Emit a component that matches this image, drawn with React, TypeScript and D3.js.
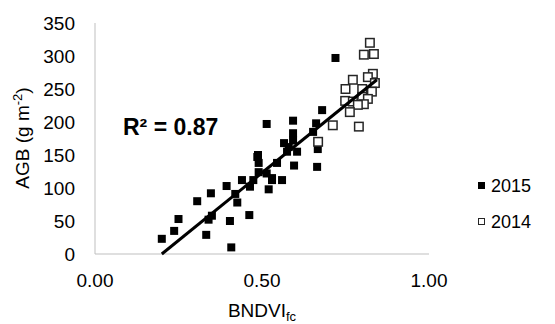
import React from 'react';
import * as d3 from 'd3';

// 2015 field data (filled squares)
const x2015 = [0.20, 0.237, 0.25, 0.306, 0.333, 0.34, 0.35, 0.347, 0.394, 0.404, 0.408, 0.426, 0.42, 0.462, 0.44, 0.464, 0.474, 0.486, 0.49, 0.49, 0.514, 0.52, 0.514, 0.53, 0.545, 0.72, 0.68, 0.593, 0.662, 0.653, 0.593, 0.593, 0.566, 0.58, 0.605, 0.575, 0.667, 0.665, 0.596, 0.488, 0.53, 0.56];
const y2015 = [23, 35, 53, 80, 29, 52, 58, 92, 103, 50, 10, 78, 91, 59, 112, 102, 112, 147, 138, 124, 197, 98, 122, 112, 138, 297, 218, 202, 198, 185, 183, 172, 168, 162, 155, 155, 159, 132, 134, 150, 115, 112];

// 2014 field data (open squares)
const x2014 = [0.823, 0.805, 0.835, 0.832, 0.817, 0.838, 0.772, 0.75, 0.80, 0.829, 0.80, 0.817, 0.749, 0.772, 0.805, 0.787, 0.763, 0.712, 0.79, 0.668];
const y2014 = [320, 302, 303, 273, 268, 259, 264, 250, 250, 246, 238, 235, 232, 231, 227, 226, 215, 195, 193, 170];

const xTicks = [0, 0.5, 1];
const yTicks = [0, 50, 100, 150, 200, 250, 300, 350];

// trend line ends
const fitX = [0.2, 0.844];
const fitSlope = 410;
const fitIntercept = -82;

const font = "'Liberation Sans', Arial, sans-serif";

export default function App() {
  const width = 555;
  const height = 324;
  const x = d3.scaleLinear().domain([0, 1]).range([95, 429]);
  const y = d3.scaleLinear().domain([0, 350]).range([254, 23]);
  const s = 8;
  const so = 8.5;

  const line = d3.line<number>()
    .x(d => x(d))
    .y(d => y(fitSlope * d + fitIntercept));

  return (
    <svg width={width} height={height} style={{ position: 'absolute', left: 0, top: 0 }}
      fontFamily={font}>
      <rect width={width} height={height} fill="#fff" />
      {/* axes */}
      <line x1={x(0)} x2={x(0)} y1={y(350)} y2={y(0)} stroke="#bfbfbf" />
      <line x1={x(0)} x2={x(1)} y1={y(0)} y2={y(0)} stroke="#bfbfbf" />
      {yTicks.map(t => (
        <text key={t} x={75} y={y(t)} dy="0.35em" textAnchor="end" fontSize={19} fill="#000">{t}</text>
      ))}
      {xTicks.map(t => (
        <text key={t} x={x(t)} y={280} dy="0.35em" textAnchor="middle" fontSize={19} fill="#000">{d3.format('.2f')(t)}</text>
      ))}
      <text transform={`translate(22,138) rotate(-90)`} textAnchor="middle" dy="0.35em" fontSize={19}>
        AGB (g m<tspan dy="-7" fontSize={13}>-2</tspan><tspan dy="7">)</tspan>
      </text>
      <text x={262} y={317} textAnchor="middle" fontSize={19}>
        BNDVI<tspan dy="4" fontSize={13}>fc</tspan>
      </text>
      {/* points */}
      {x2015.map((v, i) => (
        <rect key={'a' + i} x={x(v) - s / 2} y={y(y2015[i]) - s / 2} width={s} height={s} fill="#000" />
      ))}
      {x2014.map((v, i) => (
        <rect key={'b' + i} x={x(v) - so / 2} y={y(y2014[i]) - so / 2} width={so} height={so}
          fill="#fff" stroke="#262626" strokeWidth={1.5} />
      ))}
      <path d={line(fitX) || ''} stroke="#000" strokeWidth={3} fill="none" />
      <text x={123} y={127} dy="0.35em" fontSize={23} fontWeight="bold">R² = 0.87</text>
      {/* legend */}
      <rect x={478} y={182} width={7} height={7} fill="#000" />
      <text x={491} y={186} dy="0.35em" fontSize={18}>2015</text>
      <rect x={478.5} y={218.5} width={6} height={6} fill="#fff" stroke="#262626" />
      <text x={491} y={222} dy="0.35em" fontSize={18}>2014</text>
    </svg>
  );
}
